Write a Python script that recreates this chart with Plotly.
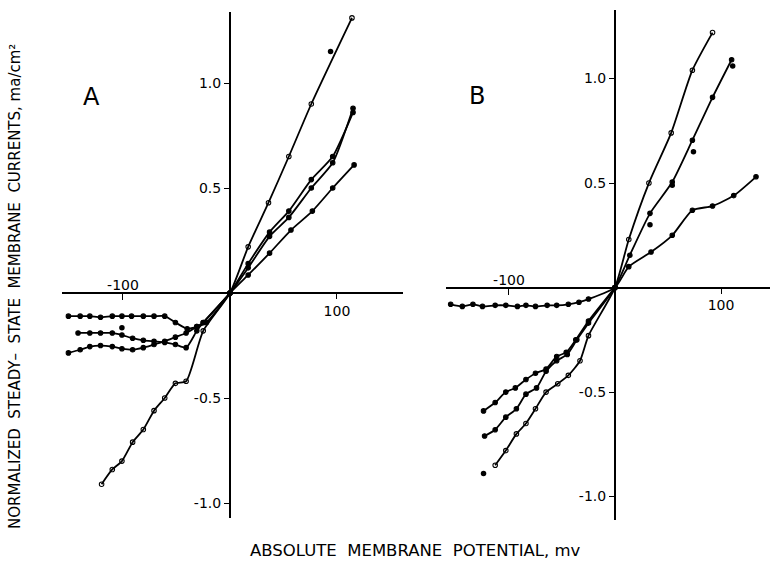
import plotly.graph_objects as go

# ---------------- Panel A data ----------------
a1_x = [-120, -110, -101, -91, -81, -71, -61, -51, -41, -25, 0, 17, 36, 55, 76, 114]
a1_y = [-0.91, -0.84, -0.80, -0.71, -0.65, -0.56, -0.50, -0.43, -0.42, -0.18, 0, 0.22, 0.43, 0.65, 0.90, 1.31]
a1_out_x = [94]
a1_out_y = [1.15]

a2_x = [-151, -140, -131, -121, -110, -101, -92, -81, -71, -61, -51, -40, -31, -22, 0, 17, 37, 55, 76, 96, 115]
a2_y = [-0.11, -0.11, -0.11, -0.115, -0.11, -0.11, -0.11, -0.11, -0.11, -0.11, -0.14, -0.17, -0.16, -0.14, 0,
        0.14, 0.29, 0.39, 0.54, 0.65, 0.86]

a3_x = [-142, -131, -121, -110, -101, -91, -81, -71, -61, -51, -41, -31, -25, 0, 17, 37, 55, 76, 96, 115]
a3_y = [-0.19, -0.19, -0.19, -0.19, -0.20, -0.215, -0.225, -0.23, -0.235, -0.245, -0.26, -0.18, -0.14, 0,
        0.12, 0.27, 0.36, 0.50, 0.62, 0.88]
a3_out_x = [-101]
a3_out_y = [-0.165]

a4_x = [-151, -140, -131, -121, -110, -101, -91, -81, -71, -61, -51, -41, -31, -25, 0, 17, 37, 57, 77, 96, 116]
a4_y = [-0.285, -0.27, -0.255, -0.25, -0.255, -0.265, -0.27, -0.26, -0.245, -0.23, -0.21, -0.19, -0.16, -0.14, 0,
        0.086, 0.19, 0.30, 0.39, 0.50, 0.61]

# ---------------- Panel B data ----------------
b1_x = [-113, -103, -93, -84, -75, -65, -54, -44, -33, -25, 0, 13, 32, 53, 73, 92]
b1_y = [-0.85, -0.78, -0.70, -0.65, -0.58, -0.50, -0.46, -0.42, -0.35, -0.23, 0, 0.23, 0.50, 0.74, 1.04, 1.22]
b1_out_x = [-124]
b1_out_y = [-0.89]

b2_x = [-123, -113, -103, -93, -84, -74, -65, -55, -45, -36, -25, 0, 14, 33, 54, 73, 92, 110]
b2_y = [-0.71, -0.68, -0.62, -0.58, -0.51, -0.48, -0.40, -0.35, -0.32, -0.25, -0.17, 0,
        0.155, 0.355, 0.505, 0.705, 0.91, 1.09]

b3_x = [-124, -113, -103, -94, -84, -75, -65, -55, -46, -37, -25, 0]
b3_y = [-0.59, -0.55, -0.50, -0.48, -0.44, -0.41, -0.39, -0.33, -0.31, -0.25, -0.16, 0]
b3_pos_x = [33, 54, 74, 111]
b3_pos_y = [0.30, 0.49, 0.65, 1.06]

b4_x = [-155, -144, -134, -125, -113, -103, -92, -84, -75, -64, -55, -44, -34, -25, 0,
        13, 34, 54, 73, 92, 112, 133]
b4_y = [-0.08, -0.09, -0.08, -0.09, -0.085, -0.085, -0.09, -0.085, -0.09, -0.085, -0.085, -0.08, -0.07, -0.055, 0,
        0.10, 0.17, 0.25, 0.37, 0.39, 0.44, 0.53]

y_tickvals = [-1.0, -0.5, 0.5, 1.0]
y_ticktext = ["-1.0", "-0.5", "0.5", "1.0"]

FONT = "DejaVu Sans"
BLACK = "black"

fig = go.Figure()


def curve(x, y, xa, ya, symbol="circle", size=4.5, open_=False):
    fig.add_trace(go.Scatter(
        x=x, y=y, xaxis=xa, yaxis=ya, mode="lines+markers",
        line=dict(color=BLACK, width=1.8, shape="spline", smoothing=0.6),
        marker=dict(symbol=symbol + ("-open" if open_ else ""), size=size, color=BLACK,
                    line=dict(color=BLACK, width=1.1)),
        showlegend=False, hoverinfo="skip"))


def dots(x, y, xa, ya, size=5.5):
    fig.add_trace(go.Scatter(
        x=x, y=y, xaxis=xa, yaxis=ya, mode="markers",
        marker=dict(symbol="circle", size=size, color=BLACK),
        showlegend=False, hoverinfo="skip"))


# Panel A
curve(a1_x, a1_y, "x", "y", open_=True)
dots(a1_out_x, a1_out_y, "x", "y")
curve(a2_x, a2_y, "x", "y")
curve(a3_x, a3_y, "x", "y")
dots(a3_out_x, a3_out_y, "x", "y")
curve(a4_x, a4_y, "x", "y")

# Panel B
curve(b1_x, b1_y, "x2", "y2", open_=True)
dots(b1_out_x, b1_out_y, "x2", "y2")
curve(b2_x, b2_y, "x2", "y2")
curve(b3_x, b3_y, "x2", "y2")
dots(b3_pos_x, b3_pos_y, "x2", "y2")
curve(b4_x, b4_y, "x2", "y2")

# invisible traces to activate overlay axes
fig.add_trace(go.Scatter(x=[None], y=[None], xaxis="x3", yaxis="y", showlegend=False))
fig.add_trace(go.Scatter(x=[None], y=[None], xaxis="x4", yaxis="y2", showlegend=False))

W, H = 773, 569
# panel geometry in pixels
A_x0, A_x1, A_ox = 62, 403, 230
A_y0, A_y1, A_oy = 12, 518, 293
B_x0, B_x1, B_ox = 446, 770, 615
B_y0, B_y1, B_oy = 10, 520, 287.5

A_xrange = [-157, 161.7]
A_yrange = [-1.071, 1.338]
B_xrange = [-159.4, 146.2]
B_yrange = [-1.112, 1.328]

tickfont = dict(family=FONT, size=14, color=BLACK)

common_x = dict(showgrid=False, zeroline=True, zerolinecolor=BLACK, zerolinewidth=1.6,
                showline=False, tickfont=tickfont, ticks="outside", ticklen=5, tickwidth=1.3,
                tickcolor=BLACK, fixedrange=True, automargin=False)
common_y = dict(showgrid=False, zeroline=True, zerolinecolor=BLACK, zerolinewidth=1.6,
                showline=False, tickfont=tickfont, ticks="outside", ticklen=6, tickwidth=1.3,
                tickcolor=BLACK, tickvals=y_tickvals, ticktext=y_ticktext, fixedrange=True,
                automargin=False)

fig.update_layout(
    width=W, height=H, margin=dict(l=0, r=0, t=0, b=0, autoexpand=False),
    paper_bgcolor="white", plot_bgcolor="white",
    xaxis=dict(common_x, domain=[A_x0 / W, A_x1 / W], range=A_xrange, anchor="free",
               position=1 - A_oy / H, side="bottom", tickvals=[100], ticktext=["100"]),
    xaxis3=dict(common_x, range=A_xrange, overlaying="x", anchor="free",
                position=1 - A_oy / H, side="top", ticks="inside", ticklen=6,
                tickvals=[-100], ticktext=["-100"], zeroline=False),
    yaxis=dict(common_y, domain=[1 - A_y1 / H, 1 - A_y0 / H], range=A_yrange, anchor="free",
               position=A_ox / W),
    xaxis2=dict(common_x, domain=[B_x0 / W, B_x1 / W], range=B_xrange, anchor="free",
                position=1 - B_oy / H, side="bottom", tickvals=[100], ticktext=["100"]),
    xaxis4=dict(common_x, range=B_xrange, overlaying="x2", anchor="free",
                position=1 - B_oy / H, side="top", ticks="inside", ticklen=6,
                tickvals=[-100], ticktext=["-100"], zeroline=False),
    yaxis2=dict(common_y, domain=[1 - B_y1 / H, 1 - B_y0 / H], range=B_yrange, anchor="free",
                position=B_ox / W),
    annotations=[
        dict(text="A", x=91 / W, y=1 - 97 / H, xref="paper", yref="paper", showarrow=False,
             font=dict(family=FONT, size=24, color=BLACK), xanchor="center", yanchor="middle"),
        dict(text="B", x=477 / W, y=1 - 96 / H, xref="paper", yref="paper", showarrow=False,
             font=dict(family=FONT, size=24, color=BLACK), xanchor="center", yanchor="middle"),
        dict(text="ABSOLUTE  MEMBRANE  POTENTIAL, mv", x=416 / W, y=1 - 550 / H,
             xref="paper", yref="paper", showarrow=False,
             font=dict(family=FONT, size=16.5, color=BLACK), xanchor="center", yanchor="middle"),
        dict(text="NORMALIZED  STEADY\u2013  STATE  MEMBRANE  CURRENTS, ma/cm\u00b2", x=15 / W,
             y=1 - 287 / H, xref="paper", yref="paper", showarrow=False, textangle=-90,
             font=dict(family=FONT, size=15, color=BLACK), xanchor="center", yanchor="middle"),
    ],
)

fig.write_html("out.html", config={"displayModeBar": False},
               post_script="document.body.style.margin='0';document.body.style.overflow='hidden';")
